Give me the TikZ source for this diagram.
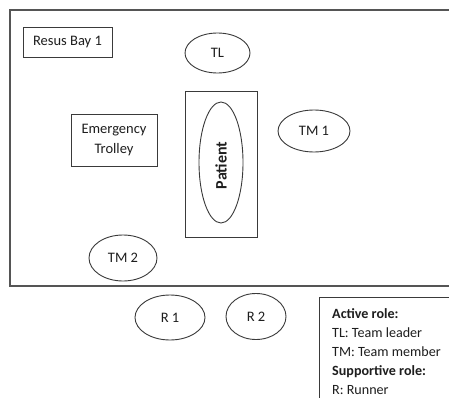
\documentclass[tikz,border=0pt]{standalone}
\usepackage{fontspec}
\setmainfont{Carlito}
\usetikzlibrary{shapes.geometric}
\definecolor{lineg}{HTML}{3A3A3A}
\definecolor{roomg}{HTML}{555555}
\definecolor{txt}{HTML}{1E1E1E}
\begin{document}
\begin{tikzpicture}[x=1pt,y=-1pt,
  roomline/.style={draw=roomg,line width=1.8pt},
  boxshape/.style={draw=lineg,line width=0.9pt},
  oval/.style={ellipse,draw=lineg,line width=0.9pt,inner sep=0pt,text=txt,font=\fontsize{14.5}{17}\selectfont},
  lbl/.style={text=txt,font=\fontsize{14.5}{20}\selectfont,inner sep=0pt},
  legtxt/.style={text=txt,font=\fontsize{14.1}{19}\selectfont,inner sep=0pt,anchor=base west},
  legbold/.style={legtxt,font=\fontsize{14.1}{19}\selectfont\bfseries}]
\useasboundingbox (0,0) rectangle (449,398);
\clip (0,0) rectangle (449,398);
\fill[white] (0,0) rectangle (449,398);
% room
\draw[roomline] (10,10) rectangle (470,286);
% Resus bay label
\node[boxshape,lbl,minimum width=89pt,minimum height=30pt] (bay) at (67.5,42) {Resus Bay 1};
% team leader
\node[oval,minimum width=65pt,minimum height=40pt] (tl) at (217.5,53) {TL};
% patient bed
\node[boxshape,minimum width=72pt,minimum height=146pt,inner sep=0pt] (bed) at (221,164) {};
\node[ellipse,draw=lineg,line width=0.9pt,minimum width=44pt,minimum height=121pt,inner sep=0pt] (pat) at (221,162.5) {};
\node[text=txt,font=\fontsize{16}{18}\selectfont\bfseries,rotate=90,inner sep=0pt] (pattxt) at (221,165.5) {Patient};
% trolley
\node[boxshape,lbl,minimum width=86pt,minimum height=52pt,align=center] (trol) at (114,140) {Emergency\\Trolley};
% team members
\node[oval,minimum width=72pt,minimum height=42pt] (tm1) at (314,131) {TM 1};
\node[oval,minimum width=68pt,minimum height=46pt] (tm2) at (123,258) {TM 2};
% runners
\node[oval,minimum width=70pt,minimum height=45pt] (r1) at (170,317.5) {R 1};
\node[oval,minimum width=60pt,minimum height=46pt] (r2) at (256,316.5) {R 2};
% legend
\draw[boxshape] (319,297) rectangle (470,420);
\node[legbold] (l1) at (332,318) {Active role:};
\node[legtxt] (l2) at (332,337) {TL: Team leader};
\node[legtxt] (l3) at (332,356) {TM: Team member};
\node[legbold] (l4) at (332,375) {Supportive role:};
\node[legtxt] (l5) at (332,394) {R: Runner};
\end{tikzpicture}
\end{document}
